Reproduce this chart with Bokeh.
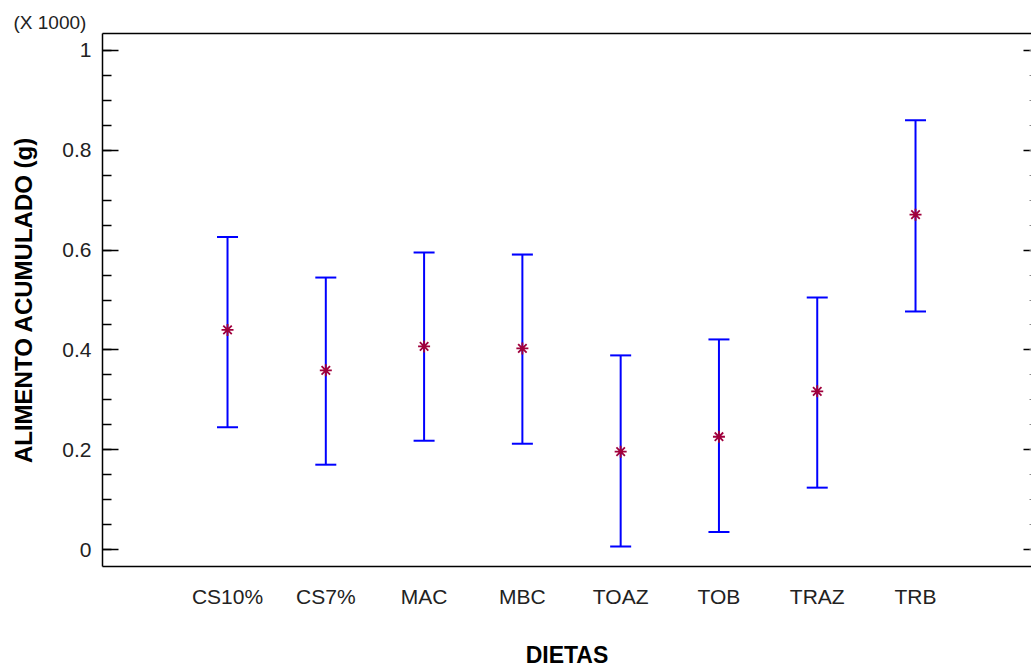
from bokeh.plotting import figure
from bokeh.models import (ColumnDataSource, Whisker, TeeHead, LinearAxis, FixedTicker,
                          Range1d, NumeralTickFormatter)
from bokeh.embed import file_html
from bokeh.resources import INLINE

# ---- data (values in thousands of g) ----
dietas = ["CS10%", "CS7%", "MAC", "MBC", "TOAZ", "TOB", "TRAZ", "TRB"]
media = [0.440, 0.359, 0.407, 0.403, 0.196, 0.226, 0.317, 0.671]
superior = [0.626, 0.545, 0.595, 0.591, 0.389, 0.421, 0.505, 0.860]
inferior = [0.245, 0.170, 0.218, 0.212, 0.006, 0.035, 0.124, 0.477]
y_ticks = [0, 0.2, 0.4, 0.6, 0.8, 1.0]
y_minor = [i * 0.05 for i in range(0, 21)]

pos = list(range(1, len(dietas) + 1))
src = ColumnDataSource(dict(x=pos, m=media, up=superior, lo=inferior))

TICK_FONT = "Liberation Sans"
BOLD_FONT = "Liberation Sans"

p = figure(width=1031, height=670, output_backend="svg", toolbar_location=None,
           x_range=Range1d(-0.272, 9.18), y_range=Range1d(-0.034, 1.034),
           min_border_left=102, min_border_right=0, min_border_top=33, min_border_bottom=104,
           x_axis_location=None, y_axis_location=None,
           title="(X 1000)")
p.outline_line_color = None
p.grid.visible = False
p.background_fill_color = "white"
p.border_fill_color = "white"

p.title.align = "left"
p.title.offset = -89
p.title.standoff = 2
p.title.text_font = TICK_FONT
p.title.text_font_size = "19px"
p.title.text_font_style = "normal"
p.title.text_color = "#222222"

# error bars
w = Whisker(source=src, base="x", upper="up", lower="lo", dimension="height",
            line_color="#0000ff", line_width=2,
            upper_head=TeeHead(size=21, line_color="#0000ff", line_width=2),
            lower_head=TeeHead(size=21, line_color="#0000ff", line_width=2))
p.add_layout(w)

p.scatter("x", "m", source=src, marker="asterisk", size=12, line_color="#a0003c", line_width=1.8)

# axes
xax = LinearAxis(ticker=FixedTicker(ticks=pos),
                 major_label_overrides={i: d for i, d in zip(pos, dietas)},
                 axis_label="DIETAS")
xax.major_tick_line_color = None
xax.minor_tick_line_color = None
xax.axis_line_color = "black"
xax.axis_line_width = 1.5
xax.major_label_text_font = TICK_FONT
xax.major_label_text_font_size = "21px"
xax.major_label_text_color = "#222222"
xax.major_label_standoff = 12
xax.axis_label_text_font = BOLD_FONT
xax.axis_label_text_font_style = "bold"
xax.axis_label_text_font_size = "23px"
xax.axis_label_text_color = "black"
xax.axis_label_standoff = 31
p.add_layout(xax, "below")

yax = LinearAxis(ticker=FixedTicker(ticks=y_ticks, minor_ticks=y_minor),
                 formatter=NumeralTickFormatter(format="0.[0]"),
                 axis_label="ALIMENTO ACUMULADO (g)")
yax.axis_line_color = "black"
yax.axis_line_width = 1.5
yax.major_tick_in = 16
yax.major_tick_out = 0
yax.minor_tick_in = 9
yax.minor_tick_out = 0
yax.major_tick_line_width = 1.5
yax.minor_tick_line_width = 1.5
yax.major_label_text_font = TICK_FONT
yax.major_label_text_font_size = "21px"
yax.major_label_text_color = "#222222"
yax.major_label_standoff = 11
yax.axis_label_text_font = BOLD_FONT
yax.axis_label_text_font_style = "bold"
yax.axis_label_text_font_size = "24px"
yax.axis_label_text_color = "black"
yax.axis_label_standoff = 22
p.add_layout(yax, "left")

rax = LinearAxis(ticker=FixedTicker(ticks=y_ticks, minor_ticks=y_minor),
                 major_label_overrides={t: "" for t in y_ticks})
rax.axis_line_color = None
rax.major_tick_in = 8
rax.major_tick_out = 0
rax.minor_tick_in = 2
rax.minor_tick_out = 0
rax.major_tick_line_width = 1.5
rax.minor_tick_line_color = "#888888"
rax.major_label_text_font_size = "1px"
rax.major_label_standoff = 0
p.add_layout(rax, "right")

tax = LinearAxis(ticker=FixedTicker(ticks=[]))
tax.axis_line_color = "black"
tax.axis_line_width = 1.5
tax.major_tick_line_color = None
tax.minor_tick_line_color = None
tax.major_label_standoff = 0
p.add_layout(tax, "above")

open("out.html", "w").write(file_html(p, INLINE))
